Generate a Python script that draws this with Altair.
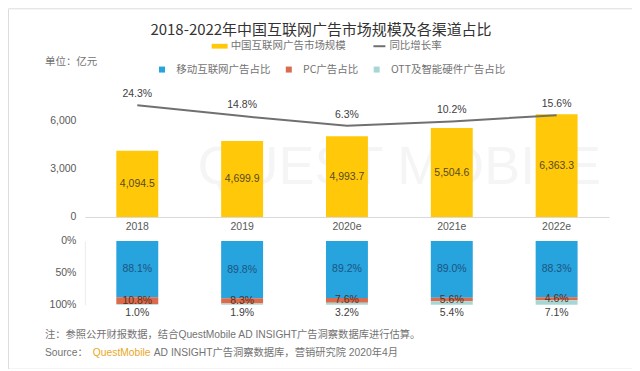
import altair as alt
import pandas as pd

# ---------------- data ----------------
years = ["2018", "2019", "2020e", "2021e", "2022e"]
market = [4094.5, 4699.9, 4993.7, 5504.6, 6363.3]          # 亿元
growth = [24.3, 14.8, 6.3, 10.2, 15.6]                      # %
mobile_share = [88.1, 89.8, 89.2, 89.0, 88.3]
pc_share = [10.8, 8.3, 7.6, 5.6, 4.6]
ott_share = [1.0, 1.9, 3.2, 5.4, 7.1]
channels = ["移动互联网广告占比", "PC广告占比", "OTT及智能硬件广告占比"]
bar_series = "中国互联网广告市场规模"
line_series = "同比增长率"
top_ticks = [0, 3000, 6000]
bottom_ticks = [0, 50, 100]

title_text = "2018-2022年中国互联网广告市场规模及各渠道占比"
unit_text = "单位：亿元"
note_text = "注：参照公开财报数据，结合QuestMobile AD INSIGHT广告洞察数据库进行估算。"
source_label = "Source："
source_brand = "QuestMobile"
source_rest = "AD INSIGHT广告洞察数据库，营销研究院 2020年4月"
watermark_text = "QUEST MOBILE"

# ---------------- tables ----------------
df_top = pd.DataFrame({"year": years, "market": market, "growth": growth})
df_top["series"] = bar_series
df_top["series2"] = line_series

rows = []
for i, yr in enumerate(years):
    for k, vals in enumerate([mobile_share, pc_share, ott_share]):
        rows.append({"year": yr, "channel": channels[k], "share": vals[i], "ord": k})
df_share = pd.DataFrame(rows)

# ---------------- style ----------------
FONT = "Liberation Sans, Noto Sans CJK SC"
CJK = "Noto Sans CJK SC"
YELLOW = "#FFC90A"
BLUE = "#27A3DD"
RED = "#DA6B4C"
TEAL = "#A6D7D4"
LINE_GRAY = "#707070"
AXIS_GRAY = "#595959"
TEXT_GRAY = "#737373"

W, H = 625, 361
X_RANGE = [77, 602]
TOP_BASE = 209
PX_PER_UNIT = 48.5 / 3000

x_scale = alt.Scale(domain=years, range=X_RANGE, paddingInner=0.6, paddingOuter=0.3)


def xenc(axis=alt.Undefined):
    # the shared x axis is defined once (in the bar layer); other layers leave it undefined
    return alt.X("year:N", sort=years, scale=x_scale, axis=axis)


ytop = alt.Scale(domain=[0, 8000], range=[TOP_BASE, TOP_BASE - 8000 * PX_PER_UNIT], nice=False)
yrate = alt.Scale(domain=[0, 30], range=[125, 125 - 34.5], nice=False)
ybot = alt.Scale(domain=[0, 100], range=[233, 297], nice=False)

x_axis = alt.Axis(
    orient="bottom", offset=-(H - TOP_BASE), title=None, ticks=False, grid=False,
    domain=True, domainColor="#d9d9d9", labelPadding=5, labelFontSize=10.5,
    labelColor=AXIS_GRAY, labelFont=FONT, labelAngle=0,
)
y_axis_top = alt.Axis(
    orient="left", offset=-77, values=top_ticks, format=",d", ticks=False, domain=False,
    grid=False, labelPadding=9, labelFontSize=10.5, labelColor=AXIS_GRAY, labelFont=FONT, title=None,
)
y_axis_bot = alt.Axis(
    orient="left", offset=-77, values=bottom_ticks, labelExpr="datum.value + '%'", ticks=False,
    domain=True, domainColor="#ececec", grid=False, labelPadding=9, labelFontSize=10.5,
    labelColor=AXIS_GRAY, labelFont=FONT, title=None,
)

leg_common = dict(orient="none", direction="horizontal", title=None, padding=0,
                  labelFont=CJK, labelFontSize=10.5, labelColor=TEXT_GRAY)
leg_bar = alt.Legend(legendX=203, legendY=29, symbolType="M-1,-0.3H1V0.3H-1Z",
                     symbolSize=256, labelOffset=2, **leg_common)
leg_line = alt.Legend(legendX=365, legendY=31, symbolType="stroke", symbolSize=144,
                      symbolStrokeWidth=2, labelOffset=3, **leg_common)
leg_share = alt.Legend(legendX=149, legendY=56, symbolType="square", symbolSize=36,
                       labelOffset=9, columnPadding=13, **leg_common)


# ---------------- annotations ----------------
def note(text, x, y, size, color, font=FONT, align="left"):
    return alt.Chart(pd.DataFrame({"t": [text]})).mark_text(
        font=font, fontSize=size, color=color, align=align, baseline="middle"
    ).encode(text="t:N", x=alt.value(x), y=alt.value(y))


watermark = note(watermark_text, 392, 160, 54, "#f5f5f5", font="Liberation Sans", align="center")
title_t = note(title_text, 313.5, 22, 15, "#333333", font=CJK, align="center")
unit_t = note(unit_text, 37, 54, 10.5, TEXT_GRAY)
note_t = note(note_text, 37, 327, 10.3, TEXT_GRAY)
src1 = note(source_label, 37, 345, 10.3, TEXT_GRAY)
src2 = note(source_brand, 85, 345, 10.3, "#E9A825")
src3 = note(source_rest, 146, 345, 10.3, TEXT_GRAY)

# ---------------- top panel ----------------
bars = alt.Chart(df_top).mark_bar().encode(
    x=xenc(x_axis),
    y=alt.Y("market:Q", scale=ytop, axis=y_axis_top),
    color=alt.Color("series:N", scale=alt.Scale(domain=[bar_series], range=[YELLOW]), legend=leg_bar),
)
bar_labels = alt.Chart(df_top).transform_calculate(half="datum.market / 2").mark_text(
    font=FONT, fontSize=10.5, color="#5a4a1e", baseline="middle"
).encode(
    x=xenc(),
    y=alt.Y("half:Q", scale=ytop, axis=None),
    text=alt.Text("market:Q", format=",.1f"),
)

line = alt.Chart(df_top).mark_line(strokeWidth=2).encode(
    x=xenc(),
    y=alt.Y("growth:Q", scale=yrate, axis=None),
    stroke=alt.Stroke("series2:N", scale=alt.Scale(domain=[line_series], range=[LINE_GRAY]), legend=leg_line),
)
rate_labels = alt.Chart(df_top).transform_calculate(
    lab="format(datum.growth, '.1f') + '%'"
).mark_text(font=FONT, fontSize=10.5, color="#404040", baseline="middle", dy=-11).encode(
    x=xenc(),
    y=alt.Y("growth:Q", scale=yrate, axis=None),
    text="lab:N",
)

# ---------------- bottom panel ----------------
sbase = alt.Chart(df_share).transform_stack(
    stack="share", groupby=["year"], as_=["s0", "s1"], sort=[alt.SortField("ord", order="ascending")]
).transform_calculate(
    mid="(datum.s0 + datum.s1) / 2", lab="format(datum.share, '.1f') + '%'"
)
share_bars = sbase.mark_bar().encode(
    x=xenc(),
    y=alt.Y("s0:Q", scale=ybot, axis=y_axis_bot),
    y2="s1:Q",
    color=alt.Color("channel:N", scale=alt.Scale(domain=channels, range=[BLUE, RED, TEAL]), legend=leg_share),
)
mob_lab = sbase.transform_filter(alt.datum.ord == 0).mark_text(
    font=FONT, fontSize=10.5, color="#1d557f", baseline="middle"
).encode(x=xenc(), y=alt.Y("mid:Q", scale=ybot, axis=None), text="lab:N")
pc_lab = sbase.transform_filter(alt.datum.ord == 1).mark_text(
    font=FONT, fontSize=10.5, color="#5a2e20", baseline="middle"
).encode(x=xenc(), y=alt.Y("mid:Q", scale=ybot, axis=None), text="lab:N")
ott_lab = sbase.transform_filter(alt.datum.ord == 2).mark_text(
    font=FONT, fontSize=10.5, color="#404040", baseline="middle", dy=8
).encode(x=xenc(), y=alt.Y("s1:Q", scale=ybot, axis=None), text="lab:N")

chart = alt.layer(
    watermark, bars, bar_labels, line, rate_labels,
    share_bars, mob_lab, pc_lab, ott_lab,
    title_t, unit_t, note_t, src1, src2, src3,
).resolve_scale(
    y="independent", color="independent"
).properties(
    width=W, height=H, padding=0, autosize=alt.AutoSizeParams(type="none")
).configure_view(
    stroke="#e3e3e3", strokeWidth=3
).configure(font=FONT)

chart.save("out.html", embed_options={"renderer": "svg", "actions": False})
